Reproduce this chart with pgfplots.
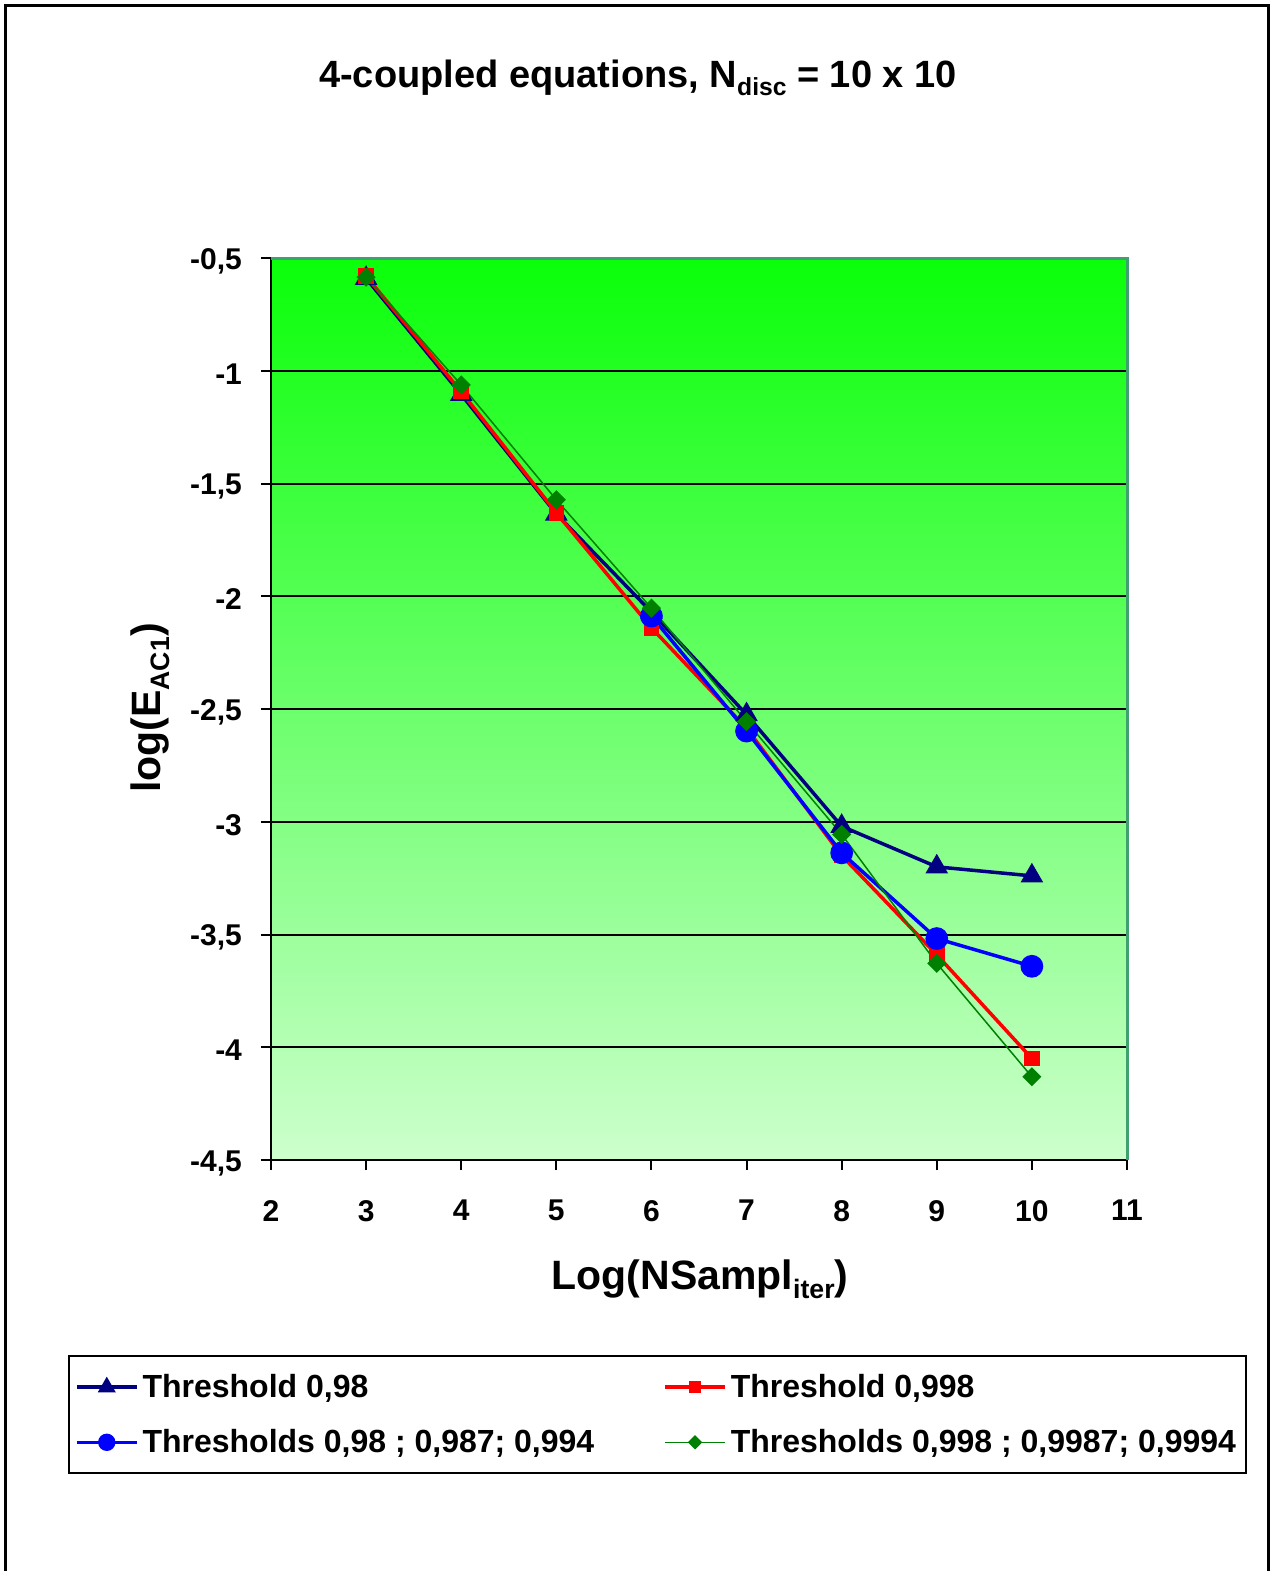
\documentclass[border=0pt]{standalone}
\usepackage{fontspec}
\setmainfont{Liberation Sans}
\usepackage{pgfplots}
\pgfplotsset{compat=1.18}
\definecolor{navyc}{RGB}{0,0,128}
\definecolor{redc}{RGB}{255,0,0}
\definecolor{bluec}{RGB}{0,0,255}
\definecolor{greenc}{RGB}{0,128,0}
\definecolor{bordc}{RGB}{64,160,112}
\definecolor{topg}{RGB}{10,255,10}
\definecolor{midg}{RGB}{140,255,140}
\definecolor{botg}{RGB}{205,255,205}
\newcommand{\sub}[1]{\raisebox{-0.2em}{\scalebox{0.65}{#1}}}
\begin{document}
\begin{tikzpicture}
\useasboundingbox (-135.5pt,-205.5pt) rectangle (499.5pt,580pt);
\draw[line width=1.5pt] (-132.75pt,-230pt) -- (-132.75pt,577pt) -- (498.5pt,577pt) -- (498.5pt,-230pt);
\begin{axis}[
  scale only axis, width=428pt, height=451pt,
  xmin=2, xmax=11, ymin=-4.5, ymax=-0.5,
  xtick={2,3,4,5,6,7,8,9,10,11},
  ytick={-4.5,-4,-3.5,-3,-2.5,-2,-1.5,-1,-0.5},
  axis x line*=bottom, axis y line*=left,
  axis line style={black, line width=1pt},
  tick align=outside, major tick length=5pt,
  tick style={black, line width=1pt},
  ymajorgrids, grid style={black, line width=1pt},
  axis background/.style={top color=topg, middle color=midg, bottom color=botg},
  tick label style={font=\fontsize{15}{18}\selectfont\bfseries},
  xticklabel style={yshift=-11.5pt},
  yticklabel style={xshift=-6pt, yshift=-1.5pt},
  /pgf/number format/.cd, use comma, fixed, assume math mode=true, /pgfplots/.cd,
  title={4-coupled equations, N\sub{disc} = 10 x 10},
  title style={font=\fontsize{19}{22}\selectfont\bfseries, at={(0.4287,1.1757)}, anchor=base},
  xlabel={Log(NSampl\sub{iter})},
  xlabel style={font=\fontsize{20.5}{24}\selectfont\bfseries, at={(0.5012,-0.1441)}, anchor=base},
  ylabel={log(E\sub{AC1})},
  ylabel style={font=\fontsize{20.5}{24}\selectfont\bfseries, at={(-0.1410,0.5011)}, anchor=center, rotate=0},
  legend columns=2,
  legend cell align=left,
  legend style={at={(-0.2371,-0.2162)}, anchor=north west, draw=black, line width=1pt, fill=white,
    font=\fontsize{16}{19}\selectfont\bfseries, inner xsep=3pt, inner ysep=7pt, row sep=10.5pt,
    /tikz/every even column/.append style={column sep=32.5pt}},
  legend image code/.code={\draw[mark repeat=2,mark phase=2,#1, every mark/.append style={scale=0.72}] plot coordinates {(0pt,0pt) (15pt,0pt) (30pt,0pt)};},
  after end axis/.code={\draw[bordc, line width=1.5pt] (rel axis cs:0,1) -- (rel axis cs:1,1) -- (rel axis cs:1,0);},
]
\addplot[navyc, line width=1.75pt, mark=triangle*, mark size=4.8pt, mark options={solid, fill=navyc}]
  coordinates {(3,-0.59) (4,-1.105) (5,-1.635) (6,-2.07) (7,-2.525) (8,-3.02) (9,-3.20) (10,-3.24)};
\addlegendentry{Threshold 0,98}
\addplot[redc, line width=1.75pt, mark=square*, mark size=3pt, mark options={solid, fill=redc}]
  coordinates {(3,-0.58) (4,-1.093) (5,-1.63) (6,-2.14) (7,-2.585) (8,-3.15) (9,-3.59) (10,-4.05)};
\addlegendentry{Threshold 0,998}
\addplot[bluec, line width=1.75pt, mark=*, mark size=4.8pt, mark options={solid, fill=bluec}]
  coordinates {(6,-2.088) (7,-2.598) (8,-3.138) (9,-3.518) (10,-3.641)};
\addlegendentry{Thresholds 0,98 ; 0,987; 0,994}
\addplot[greenc, line width=0.75pt, mark=square*, mark size=3pt, mark options={solid, fill=greenc, rotate=45}]
  coordinates {(3,-0.585) (4,-1.063) (5,-1.572) (6,-2.053) (7,-2.556) (8,-3.056) (9,-3.628) (10,-4.131)};
\addlegendentry{Thresholds 0,998 ; 0,9987; 0,9994}
\end{axis}
\end{tikzpicture}
\end{document}
